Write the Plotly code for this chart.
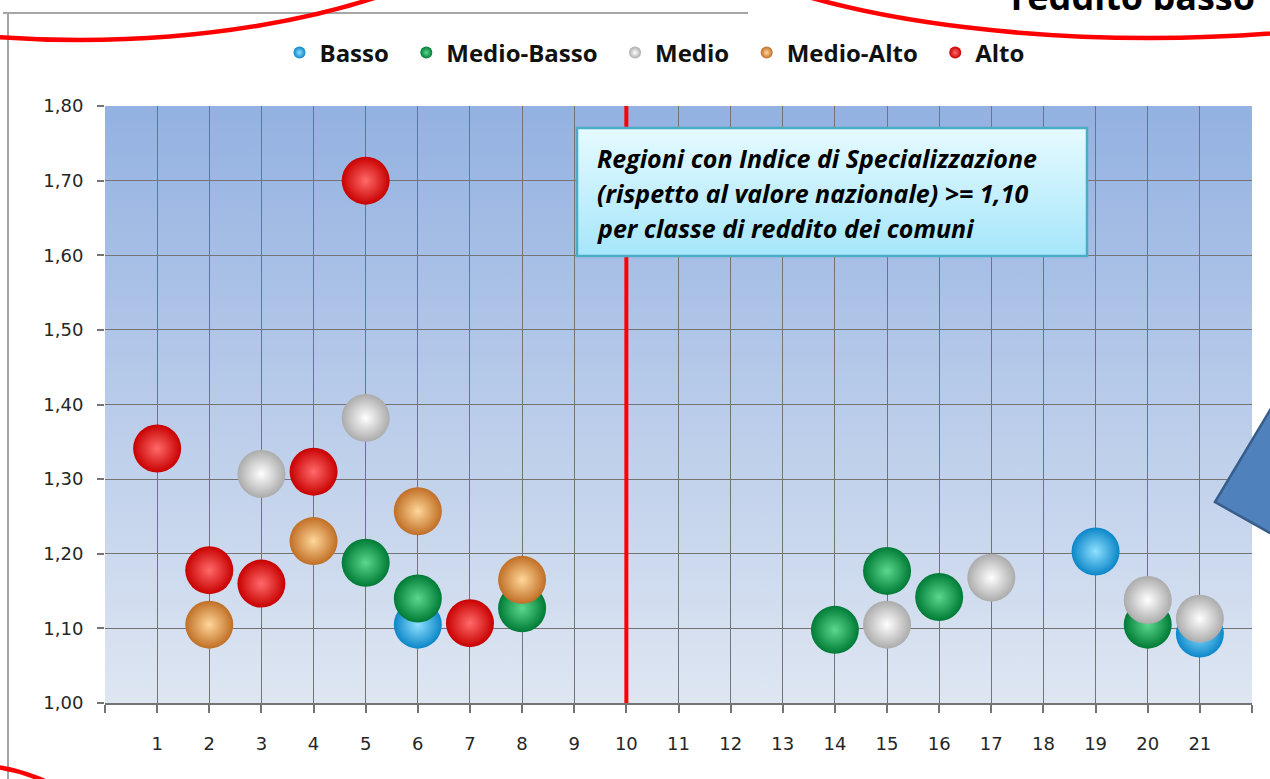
import base64
import plotly.graph_objects as go

# ---------------- data ----------------
x_categories = list(range(1, 22))
x_labels = ["1", "2", "3", "4", "5", "6", "7", "8", "9", "10", "11",
            "12", "13", "14", "15", "16", "17", "18", "19", "20", "21"]
y_tickvals = [1.00, 1.10, 1.20, 1.30, 1.40, 1.50, 1.60, 1.70, 1.80]
y_ticklabels = ["1,00", "1,10", "1,20", "1,30", "1,40", "1,50", "1,60", "1,70", "1,80"]

basso_x = [6, 19, 21]
basso_y = [1.105, 1.203, 1.093]

medio_basso_x = [5, 6, 8, 14, 15, 16, 20]
medio_basso_y = [1.188, 1.140, 1.127, 1.098, 1.177, 1.142, 1.105]

medio_x = [3, 5, 15, 17, 20, 21]
medio_y = [1.307, 1.382, 1.105, 1.168, 1.138, 1.113]

medio_alto_x = [2, 4, 6, 8]
medio_alto_y = [1.105, 1.217, 1.257, 1.165]

alto_x = [1, 2, 3, 4, 5, 7]
alto_y = [1.341, 1.178, 1.160, 1.310, 1.700, 1.107]

threshold_x = 10
box_lines = ["Regioni con Indice di Specializzazione",
             "(rispetto al valore nazionale) >= 1,10",
             "per classe di reddito dei comuni"]
corner_text = "reddito basso"

# ---------------- geometry helpers (figure pixels -> paper) ----------------
W, H = 1270, 779
ML, MR, MT, MB = 105, 18, 106, 76
PW = W - ML - MR
PH = H - MT - MB


def px(x):
    return (x - ML) / PW


def py(y):
    return (H - MB - y) / PH


def svg_uri(svg):
    return "data:image/svg+xml;base64," + base64.b64encode(svg.encode()).decode()


bg_svg = ('<svg xmlns="http://www.w3.org/2000/svg" width="100" height="100" viewBox="0 0 100 100" '
          'preserveAspectRatio="none"><defs><linearGradient id="g" x1="0" y1="0" x2="0" y2="1">'
          '<stop offset="0" stop-color="#93B1E1"/><stop offset="1" stop-color="#DEE6F2"/>'
          '</linearGradient></defs><rect width="100" height="100" fill="url(#g)"/></svg>')
box_svg = ('<svg xmlns="http://www.w3.org/2000/svg" width="100" height="100" viewBox="0 0 100 100" '
           'preserveAspectRatio="none"><defs><linearGradient id="g" x1="0" y1="0" x2="0" y2="1">'
           '<stop offset="0" stop-color="#E6FAFF"/><stop offset="1" stop-color="#A6E6FA"/>'
           '</linearGradient></defs><rect width="100" height="100" fill="url(#g)"/></svg>')

series = [
    ("Basso", basso_x, basso_y, "#0B86C8", "#8EE0FF"),
    ("Medio-Basso", medio_basso_x, medio_basso_y, "#007A35", "#5BD98E"),
    ("Medio", medio_x, medio_y, "#ABABAB", "#FFFFFF"),
    ("Medio-Alto", medio_alto_x, medio_alto_y, "#C06E25", "#FFD79A"),
    ("Alto", alto_x, alto_y, "#C80000", "#FF6A6A"),
]

fig = go.Figure()
# red threshold line (drawn as a trace so it sits above the gridlines)
fig.add_trace(go.Scatter(x=[threshold_x, threshold_x], y=[y_tickvals[0], y_tickvals[-1]],
                         mode="lines", line=dict(color="#FF0000", width=4),
                         showlegend=False, hoverinfo="skip"))
for name, xs, ys, edge, center in series:
    fig.add_trace(go.Scatter(
        x=xs, y=ys, name=name + "&nbsp;&nbsp;", mode="markers",
        marker=dict(size=48, color=edge, line=dict(width=0),
                    gradient=dict(type="radial", color=center)),
        cliponaxis=False,
    ))

tick_font = dict(family="DejaVu Sans, Open Sans, sans-serif", size=18, color="#262626")

fig.update_layout(
    width=W, height=H,
    margin=dict(l=ML, r=MR, t=MT, b=MB, pad=0),
    paper_bgcolor="white",
    plot_bgcolor="rgba(0,0,0,0)",
    showlegend=True,
    legend=dict(orientation="h", x=px(661), y=py(53), xanchor="center", yanchor="middle",
                font=dict(family="Open Sans, sans-serif", size=24, color="#111111", weight="bold"),
                itemsizing="constant", bgcolor="rgba(0,0,0,0)", traceorder="normal",
                itemwidth=30),
    xaxis=dict(range=[0, 22], tickmode="array",
               tickvals=[0] + x_categories + [22],
               ticktext=[""] + x_labels + [""],
               showgrid=True, gridcolor="#747474", gridwidth=1,
               showline=True, linecolor="#747474", linewidth=1.5,
               ticks="outside", ticklen=8, tickcolor="#747474", tickwidth=1.5,
               tickfont=tick_font, ticklabelstandoff=16, zeroline=False, fixedrange=True),
    yaxis=dict(range=[1.0, 1.8], tickmode="array", tickvals=y_tickvals, ticktext=y_ticklabels,
               showgrid=True, gridcolor="#747474", gridwidth=1,
               showline=False,
               ticks="outside", ticklen=7, tickcolor="#747474", tickwidth=1.5,
               tickfont=tick_font, ticklabelstandoff=10, zeroline=False, fixedrange=True),
    images=[
        dict(source=svg_uri(bg_svg), xref="paper", yref="paper", x=0, y=1, sizex=1, sizey=1,
             xanchor="left", yanchor="top", sizing="stretch", layer="below"),
        dict(source=svg_uri(box_svg), xref="paper", yref="paper", x=px(577), y=py(128),
             sizex=px(1087) - px(577), sizey=py(128) - py(256),
             xanchor="left", yanchor="top", sizing="stretch", layer="above"),
    ],
)

shapes = []
# box border
shapes.append(dict(type="rect", xref="paper", yref="paper", x0=px(577), x1=px(1087), y0=py(256), y1=py(128),
                   line=dict(color="#4BACC6", width=2.5), fillcolor="rgba(0,0,0,0)", layer="above"))
# outer gray frame
shapes.append(dict(type="line", xref="paper", yref="paper", x0=px(3), x1=px(748), y0=py(13), y1=py(13),
                   line=dict(color="#A6A6A6", width=2), layer="above"))
shapes.append(dict(type="line", xref="paper", yref="paper", x0=px(8), x1=px(8), y0=py(13), y1=py(790),
                   line=dict(color="#A6A6A6", width=2), layer="above"))
# red ellipses (decorative callouts)
shapes.append(dict(type="circle", xref="paper", yref="paper", x0=px(80 - 480), x1=px(80 + 480),
                   y0=py(-160 + 200), y1=py(-160 - 200), line=dict(color="#FF0000", width=4.5), layer="above"))
shapes.append(dict(type="circle", xref="paper", yref="paper", x0=px(1150 - 500), x1=px(1150 + 500),
                   y0=py(-114 + 152), y1=py(-114 - 152), line=dict(color="#FF0000", width=4.5), layer="above"))
shapes.append(dict(type="circle", xref="paper", yref="paper", x0=px(-30 - 182), x1=px(-30 + 182),
                   y0=py(947 + 182), y1=py(947 - 182), line=dict(color="#FF0000", width=4.5), layer="above"))
# blue triangle
tri = [(1215, 502), (1300, 360), (1300, 550)]
path = "M {} {} L {} {} L {} {} Z".format(*[v for p in tri for v in (px(p[0]), py(p[1]))])
shapes.append(dict(type="path", xref="paper", yref="paper", path=path,
                   fillcolor="#4F81BD", line=dict(color="#385D8A", width=2.5), layer="above"))
fig.update_layout(shapes=shapes)

annotations = []
for i, line in enumerate(box_lines):
    annotations.append(dict(xref="paper", yref="paper", x=px(595), y=py(158 + 35 * i),
                            xanchor="left", yanchor="middle", showarrow=False, align="left",
                            text="<b><i>" + line + "</i></b>",
                            font=dict(family="Open Sans, sans-serif", size=25, color="#000000")))
annotations.append(dict(xref="paper", yref="paper", x=px(1009), y=py(23), xanchor="left", yanchor="bottom",
                        showarrow=False, text="<b>" + corner_text + "</b>",
                        font=dict(family="Open Sans, sans-serif", size=36, color="#000000")))
fig.update_layout(annotations=annotations)

fig.write_html("out.html")
